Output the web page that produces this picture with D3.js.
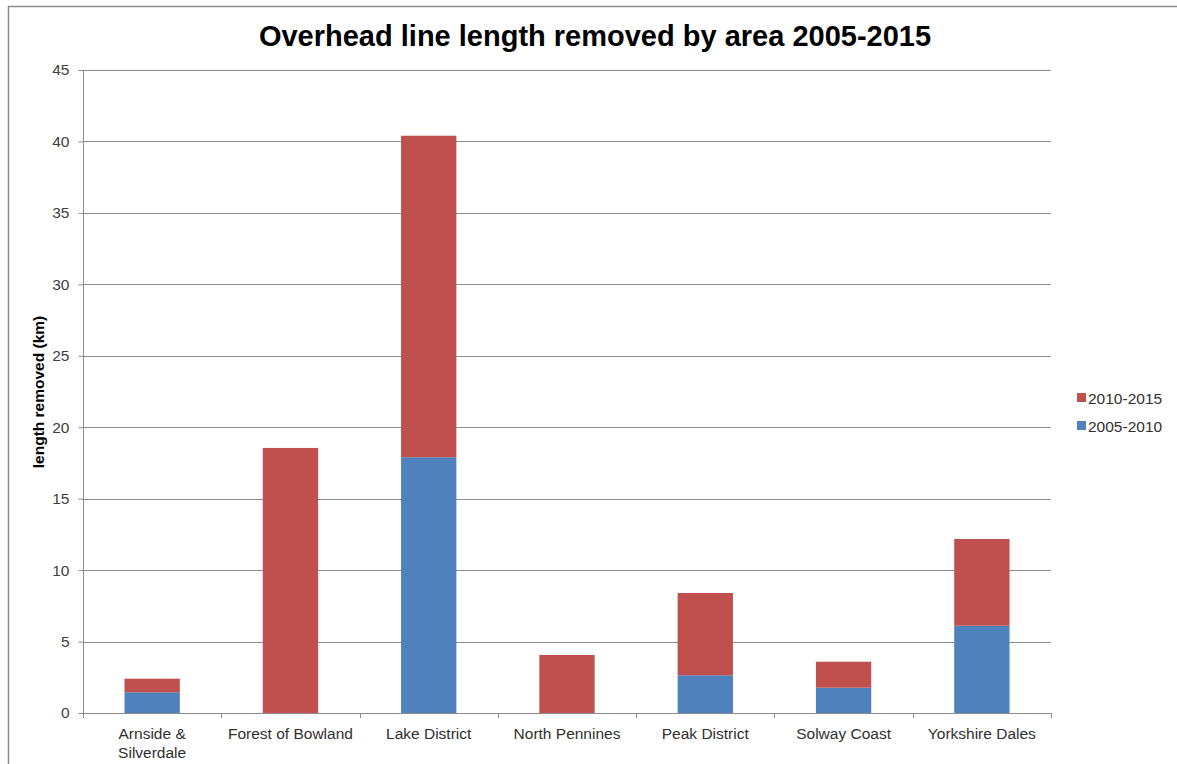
<!DOCTYPE html>
<html><head><meta charset="utf-8">
<script src="https://cdnjs.cloudflare.com/ajax/libs/d3/7.8.5/d3.min.js"></script>
<style>body{margin:0;background:#fff}svg{display:block}</style>
</head><body><svg id="c" width="1177" height="764"></svg>
<script>
const categories = ["Arnside & Silverdale","Forest of Bowland","Lake District","North Pennines","Peak District","Solway Coast","Yorkshire Dales"];
const categoryLines = [["Arnside &","Silverdale"],["Forest of Bowland"],["Lake District"],["North Pennines"],["Peak District"],["Solway Coast"],["Yorkshire Dales"]];
const series2005 = [1.45, 0, 17.9, 0, 2.64, 1.77, 6.11];
const series2010 = [0.95, 18.55, 22.5, 4.06, 5.76, 1.82, 6.07];
const seriesNames = ["2005-2010","2010-2015"];
const yTicks = [0,5,10,15,20,25,30,35,40,45];
const colors = {"2005-2010":"#4F81BD","2010-2015":"#C0504D"};

const svg = d3.select("#c");
const m = {left:83, right:1051, top:70, bottom:713};
const x = d3.scaleBand().domain(categories).range([m.left, m.right]).paddingInner(0.6).paddingOuter(0.3);
const y = d3.scaleLinear().domain([0,45]).range([m.bottom, m.top]);
const FONT = "Liberation Sans, Arial, sans-serif";

// frame
svg.append("path").attr("d","M8.5,764 V6.5 H1177").attr("fill","none").attr("stroke","#8c8c8c").attr("stroke-width",1.5);

// title
svg.append("text").attr("x",595).attr("y",46).attr("text-anchor","middle")
  .attr("font-family",FONT).attr("font-weight","bold").attr("font-size",29)
  .attr("fill","#000").text("Overhead line length removed by area 2005-2015");

// gridlines
svg.append("g").selectAll("line").data(yTicks.filter(d=>d>0)).join("line")
  .attr("x1",m.left).attr("x2",m.right).attr("y1",d=>Math.round(y(d))+0.5).attr("y2",d=>Math.round(y(d))+0.5)
  .attr("stroke","#8c8c8c").attr("stroke-width",1);

// stacked bars
const rows = categories.map((c,i)=>({cat:c,"2005-2010":series2005[i],"2010-2015":series2010[i]}));
const stack = d3.stack().keys(seriesNames)(rows);
svg.append("g").selectAll("g").data(stack).join("g").attr("fill",d=>colors[d.key])
  .selectAll("rect").data(d=>d).join("rect")
  .attr("x",d=>x(d.data.cat)).attr("width",x.bandwidth())
  .attr("y",d=>y(d[1])).attr("height",d=>y(d[0])-y(d[1]));

// y axis
const yAxis = d3.axisLeft(y).tickValues(yTicks).tickSize(5).tickPadding(9).tickFormat(d3.format("d"));
const gy = svg.append("g").attr("transform",`translate(${m.left+0.5},0)`).call(yAxis);
gy.select(".domain").attr("stroke","#8c8c8c").attr("d",`M-5,${m.top+0.5}H0V${m.bottom+0.5}`);
gy.selectAll(".tick line").attr("stroke","#8c8c8c");
gy.selectAll("text").attr("font-family",FONT).attr("font-size",15.5).attr("fill","#404040");

// x axis baseline and ticks at band boundaries
const bounds = d3.range(categories.length+1).map(i=>m.left + i*(m.right-m.left)/categories.length);
svg.append("line").attr("x1",m.left).attr("x2",m.right).attr("y1",m.bottom+0.5).attr("y2",m.bottom+0.5).attr("stroke","#8c8c8c");
svg.append("g").selectAll("line").data(bounds).join("line")
  .attr("x1",d=>Math.round(d)+0.5).attr("x2",d=>Math.round(d)+0.5).attr("y1",m.bottom).attr("y2",m.bottom+5).attr("stroke","#8c8c8c");

// category labels
const xl = svg.append("g").selectAll("text").data(categories).join("text")
  .attr("x",d=>x(d)+x.bandwidth()/2).attr("y",739).attr("text-anchor","middle")
  .attr("font-family",FONT).attr("font-size",15.5).attr("fill","#303030");
xl.each(function(d,i){
  const t = d3.select(this);
  categoryLines[i].forEach((ln,j)=>t.append("tspan").attr("x",x(d)+x.bandwidth()/2).attr("dy",j?19:0).text(ln));
});

// y axis title
svg.append("text").attr("transform","translate(44,392) rotate(-90)").attr("text-anchor","middle")
  .attr("font-family",FONT).attr("font-weight","bold").attr("font-size",15.5)
  .attr("fill","#000").text("length removed (km)");

// legend
const leg = svg.append("g").selectAll("g").data(["2010-2015","2005-2010"]).join("g")
  .attr("transform",(d,i)=>`translate(1077,${398+i*28})`);
leg.append("rect").attr("x",0).attr("y",-5).attr("width",9).attr("height",9).attr("fill",d=>colors[d]);
leg.append("text").attr("x",11).attr("y",5.5).attr("font-family",FONT).attr("font-size",15.5).attr("fill","#303030").text(d=>d);
</script></body></html>
